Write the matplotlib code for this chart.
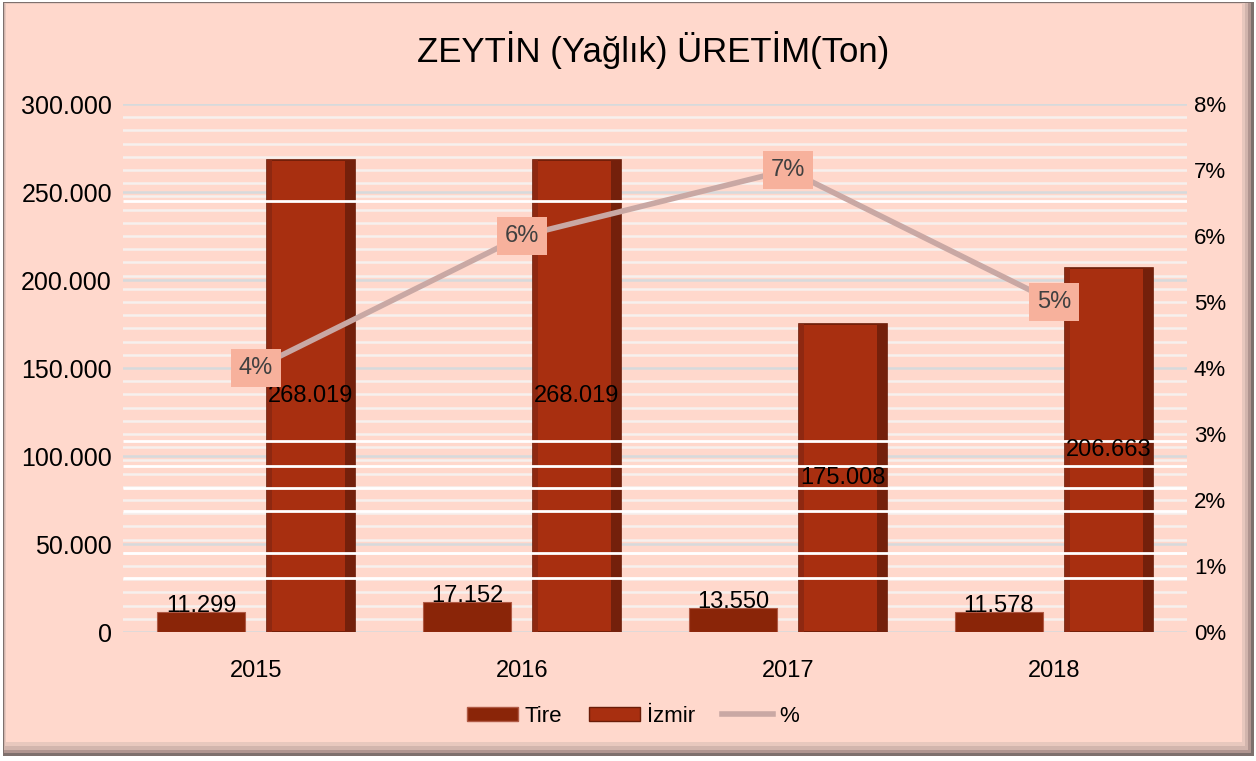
from matplotlib import pyplot as plt
from matplotlib.patches import Rectangle, Patch
from matplotlib.lines import Line2D
from matplotlib.ticker import MultipleLocator, FuncFormatter
import numpy as np

# data
years = ['2015', '2016', '2017', '2018']
tire = [11299, 17152, 13550, 11578]
izmir = [268019, 268019, 175008, 206663]
pct = [4, 6, 7, 5]

# a few brighter white rules seen across the plot (left axis units)
bright_lines = [30900, 45000, 68750, 82000, 94500, 108500, 245000]

plt.rcParams['font.family'] = ['Liberation Sans', 'DejaVu Sans']

bg = '#FFD8CC'
fig = plt.figure(figsize=(12.56, 7.61), dpi=100, facecolor='white')

# frame with soft shadow on the right and bottom
def frame(x0, y0, x1, y1, color, z):
    fig.patches.append(Rectangle((x0/1256, 1 - y1/761), (x1 - x0)/1256, (y1 - y0)/761,
                                 transform=fig.transFigure, facecolor=color,
                                 edgecolor='none', zorder=z))

frame(3, 2, 1254, 756, '#7E706D', -6)
frame(4, 3, 1251, 753, '#B09590', -5)
frame(4, 3, 1248, 750, '#D2B5AD', -4)
frame(5, 3, 1245, 746, '#E8C8BE', -3)
frame(6, 4, 1242, 742, bg, -2)

ax = fig.add_axes([123/1256, 1 - 632/761, 1064/1256, 528/761])
ax.set_facecolor('none')
x = np.arange(len(years))
w = 0.33

# bars
ax.bar(x - 0.207, tire, w, color='#8A2508', edgecolor='#B05A45', linewidth=0.8, zorder=2)
ax.bar(x + 0.207, izmir, w, color='#A82F10', edgecolor='#6A1C08', linewidth=1.2, zorder=2)
# darker sides of the bevelled bars
ax.bar(x + 0.207 + w/2 - 0.018, izmir, 0.036, color='#74200B', linewidth=0, zorder=2)
ax.bar(x + 0.207 - w/2 + 0.01, izmir, 0.02, color='#8E2811', linewidth=0, zorder=2)

ax.hlines(bright_lines, -0.5, 3.5, color='white', linewidth=2, zorder=3)

for i in range(len(years)):
    ax.text(x[i] - 0.207, tire[i], f'{tire[i]/1000:.3f}', ha='center', va='baseline',
            fontsize=17, color='black', zorder=5)
    ax.text(x[i] + 0.207, izmir[i] / 2, f'{izmir[i]/1000:.3f}', ha='center', va='center',
            fontsize=17, color='black', zorder=5)

ax.set_xlim(-0.5, 3.5)
ax.set_ylim(0, 300000)
ax.yaxis.set_major_locator(MultipleLocator(50000))
ax.yaxis.set_minor_locator(MultipleLocator(7500))
ax.yaxis.set_major_formatter(FuncFormatter(lambda v, p: '0' if v == 0 else f'{v/1000:.3f}'))
ax.set_xticks(x)
ax.set_xticklabels(years)
ax.tick_params(axis='x', length=0, labelsize=17, pad=20)
ax.tick_params(axis='y', length=0, labelsize=18, pad=8)
ax.tick_params(axis='y', which='minor', length=0)
ax.grid(True, axis='y', which='minor', color='#F6F0EE', linewidth=1.8)
ax.grid(True, axis='y', which='major', color='#D6DADC', linewidth=1.8)
ax.set_axisbelow(True)
for s in ax.spines.values():
    s.set_visible(False)

# percentage line on the right axis
ax2 = ax.twinx()
ax2.plot(x, pct, color='#C9A8A4', linewidth=4, zorder=3)
for i in range(len(years)):
    ax2.text(x[i], pct[i], f'{pct[i]}%', ha='center', va='center', fontsize=17, color='#404040',
             zorder=6, bbox=dict(boxstyle='square,pad=0.32', facecolor='#F7B19C', edgecolor='none'))
ax2.set_ylim(0, 8)
ax2.yaxis.set_major_locator(MultipleLocator(1))
ax2.yaxis.set_major_formatter(FuncFormatter(lambda v, p: f'{v:.0f}%'))
ax2.tick_params(axis='y', length=0, labelsize=16, pad=5)
for s in ax2.spines.values():
    s.set_visible(False)

fig.text(0.520, 0.934, 'ZEYTİN (Yağlık) ÜRETİM(Ton)', ha='center', va='center', fontsize=25)

handles = [Patch(facecolor='#8A2508', edgecolor='#B05A45'),
           Patch(facecolor='#A82F10', edgecolor='#6A1C08'),
           Line2D([], [], color='#C9A8A4', linewidth=4)]
fig.legend(handles, ['Tire', 'İzmir', '%'], loc='center', bbox_to_anchor=(0.504, 0.059), ncol=3,
           frameon=False, fontsize=16, handlelength=2.3, handleheight=0.6, columnspacing=1.2,
           handletextpad=0.3)

plt.savefig('out.png', dpi=100, facecolor=fig.get_facecolor())
